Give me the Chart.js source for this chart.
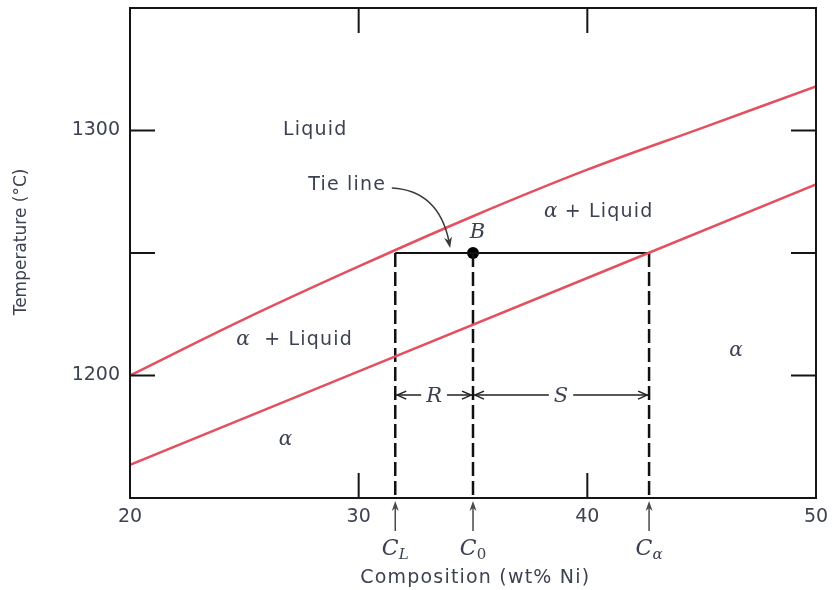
<!DOCTYPE html>
<html>
<head>
<meta charset="utf-8">
<script src="https://cdn.jsdelivr.net/npm/chart.js@4.4.1/dist/chart.umd.min.js"></script>
<style>
  body { margin: 0; background: #fff; }
  canvas { display: block; }
</style>
</head>
<body>
<canvas id="phaseChart" width="832" height="590"></canvas>
<script>
// composition axis (wt% Ni) and temperature axis (°C)
const compTicks = [20, 30, 40, 50];
const tempTicks = [1200, 1250, 1300];
const tempLabels = [1200, 1300];

// liquidus and solidus
const liquidusX = [20, 25, 30, 35, 40, 45, 50];
const liquidusT = [1200, 1223, 1244.5, 1265, 1284, 1301, 1318];
const solidusX = [20, 30, 40, 50];
const solidusT = [1163.5, 1201.7, 1239.8, 1278];

// tie line at point B
const tieT = 1250;
const cL = 31.6;
const c0 = 35;
const cAlpha = 42.7;
const dimT = 1192;

const sans = '"DejaVu Sans", sans-serif';
const serif = '"DejaVu Serif", "Liberation Serif", serif';
const textColor = '#3d4252';
const red = '#e3505f';

function pts(xs, ys) {
    return xs.map((x, i) => ({x: x, y: ys[i]}));
}

function arrowHead(ctx, x, y, ang, len, wid) {
    ctx.beginPath();
    ctx.moveTo(x, y);
    ctx.lineTo(x - len * Math.cos(ang) + wid * Math.sin(ang), y - len * Math.sin(ang) - wid * Math.cos(ang));
    ctx.lineTo(x - len * Math.cos(ang) * 0.7, y - len * Math.sin(ang) * 0.7);
    ctx.lineTo(x - len * Math.cos(ang) - wid * Math.sin(ang), y - len * Math.sin(ang) + wid * Math.cos(ang));
    ctx.closePath();
    ctx.fill();
}

function openArrow(ctx, x, y, dir) {
    // small chevron pointing in dir (+1 right, -1 left)
    ctx.beginPath();
    ctx.moveTo(x - dir * 9, y - 4);
    ctx.lineTo(x, y);
    ctx.lineTo(x - dir * 9, y + 4);
    ctx.stroke();
}

const decorations = {
    id: 'decorations',
    afterDraw(chart) {
        const ctx = chart.ctx;
        const a = chart.chartArea;
        const xs = chart.scales.x;
        const ys = chart.scales.y;
        const px = v => xs.getPixelForValue(v);
        const py = v => ys.getPixelForValue(v);
        ctx.save();

        // frame with inward ticks
        ctx.strokeStyle = '#151515';
        ctx.lineWidth = 2;
        ctx.strokeRect(a.left, a.top, a.right - a.left, a.bottom - a.top);
        const tl = 25;
        ctx.beginPath();
        compTicks.slice(1, -1).forEach(v => {
            ctx.moveTo(px(v), a.bottom); ctx.lineTo(px(v), a.bottom - tl);
            ctx.moveTo(px(v), a.top); ctx.lineTo(px(v), a.top + tl);
        });
        tempTicks.forEach(v => {
            ctx.moveTo(a.left, py(v)); ctx.lineTo(a.left + tl, py(v));
            ctx.moveTo(a.right, py(v)); ctx.lineTo(a.right - tl, py(v));
        });
        ctx.stroke();

        // R and S dimension lines
        ctx.strokeStyle = '#222';
        ctx.fillStyle = textColor;
        ctx.lineWidth = 1.5;
        const yd = py(dimT);
        [[cL, c0, 'R'], [c0, cAlpha, 'S']].forEach(d => {
            const x1 = px(d[0]), x2 = px(d[1]);
            const xm = (x1 + x2) / 2;
            ctx.font = 'italic 21px ' + serif;
            const w = ctx.measureText(d[2]).width / 2 + 5;
            ctx.beginPath();
            ctx.moveTo(x1 + 1, yd); ctx.lineTo(xm - w, yd);
            ctx.moveTo(xm + w, yd); ctx.lineTo(x2 - 1, yd);
            ctx.stroke();
            openArrow(ctx, x1 + 2, yd, -1);
            openArrow(ctx, x2 - 2, yd, 1);
            ctx.textAlign = 'center';
            ctx.textBaseline = 'middle';
            ctx.fillText(d[2], xm, yd + 1);
        });

        // arrows under the axis and C labels
        ctx.lineWidth = 1.5;
        [[cL, 'L', true], [c0, '0', false], [cAlpha, 'α', true]].forEach(c => {
            const x = px(c[0]);
            ctx.strokeStyle = '#4a4a4a';
            ctx.fillStyle = '#4a4a4a';
            ctx.beginPath();
            ctx.moveTo(x, a.bottom + 33); ctx.lineTo(x, a.bottom + 8);
            ctx.stroke();
            arrowHead(ctx, x, a.bottom + 3, -Math.PI / 2, 10, 3.5);
            ctx.fillStyle = textColor;
            ctx.textBaseline = 'alphabetic';
            ctx.textAlign = 'left';
            ctx.font = 'italic 22px ' + serif;
            const wc = ctx.measureText('C').width;
            ctx.font = (c[2] ? 'italic ' : '') + '15px ' + serif;
            const ws = ctx.measureText(c[1]).width;
            const x0 = x - (wc + ws) / 2;
            ctx.font = 'italic 22px ' + serif;
            ctx.fillText('C', x0, a.bottom + 57);
            ctx.font = (c[2] ? 'italic ' : '') + '15px ' + serif;
            ctx.fillText(c[1], x0 + wc, a.bottom + 61);
        });

        // region labels
        ctx.fillStyle = textColor;
        ctx.textBaseline = 'middle';
        function label(txt, cx, cy, greek) {
            ctx.letterSpacing = '1.2px';
            ctx.font = '19px ' + sans;
            const wr = ctx.measureText(txt).width;
            ctx.letterSpacing = '0px';
            ctx.font = 'italic 20px ' + serif;
            const wg = greek ? ctx.measureText('α').width : 0;
            let x = cx - (wg + wr) / 2;
            ctx.textAlign = 'left';
            if (greek) {
                ctx.fillText('α', x, cy);
                x += wg;
            }
            ctx.letterSpacing = '1.2px';
            ctx.font = '19px ' + sans;
            ctx.fillText(txt, x, cy);
            ctx.letterSpacing = '0px';
        }
        label('Liquid', px(28.1), py(1300), false);
        label('Tie line', px(29.5), py(1277.6), false);
        label(' + Liquid', px(40.5), py(1266.7), true);
        label('  + Liquid', px(27.2), py(1214.6), true);
        label('', px(26.8), py(1173.6), true);
        label('', px(46.5), py(1210.2), true);
        ctx.font = 'italic 21px ' + serif;
        ctx.textAlign = 'center';
        ctx.fillText('B', px(35.2), py(1258.5));

        // curved arrow for the tie line
        ctx.strokeStyle = '#3a3a3a';
        ctx.fillStyle = '#3a3a3a';
        ctx.lineWidth = 1.5;
        const sx = px(31.45), sy = py(1276.5);
        const qx = px(33.5), qy = py(1275.5);
        const ex = px(34.0), ey = py(1252);
        ctx.beginPath();
        ctx.moveTo(sx, sy);
        ctx.quadraticCurveTo(qx, qy, ex - 1, ey - 6);
        ctx.stroke();
        arrowHead(ctx, ex, ey, Math.atan2(ey - qy, ex - qx), 11, 4);

        // axis titles
        ctx.fillStyle = textColor;
        ctx.textAlign = 'center';
        ctx.textBaseline = 'middle';
        ctx.letterSpacing = '1.2px';
        ctx.font = '19px ' + sans;
        ctx.fillText('Composition (wt% Ni)', px(35.1), a.bottom + 80);
        ctx.letterSpacing = '0px';
        ctx.font = '17px ' + sans;
        ctx.translate(22, py(1254.5));
        ctx.rotate(-Math.PI / 2);
        ctx.fillText('Temperature (°C)', 0, 0);
        ctx.restore();
    }
};

new Chart('phaseChart', {
    type: 'line',
    data: {
        datasets: [
            {data: pts(liquidusX, liquidusT), borderColor: red, borderWidth: 2.5, pointRadius: 0, cubicInterpolationMode: 'monotone'},
            {data: pts(solidusX, solidusT), borderColor: red, borderWidth: 2.5, pointRadius: 0},
            {data: [{x: cL, y: tieT}, {x: cL, y: 1150}], borderColor: '#111', borderWidth: 2.5, borderDash: [14, 5], pointRadius: 0},
            {data: [{x: c0, y: tieT}, {x: c0, y: 1150}], borderColor: '#111', borderWidth: 2.5, borderDash: [14, 5], pointRadius: 0},
            {data: [{x: cAlpha, y: tieT}, {x: cAlpha, y: 1150}], borderColor: '#111', borderWidth: 2.5, borderDash: [14, 5], pointRadius: 0},
            {data: [{x: cL, y: tieT}, {x: cAlpha, y: tieT}], borderColor: '#111', borderWidth: 2, pointRadius: 0},
            {data: [{x: c0, y: tieT}], showLine: false, pointRadius: 6, pointBackgroundColor: '#000', pointBorderWidth: 0}
        ]
    },
    options: {
        responsive: false,
        animation: false,
        layout: {padding: {top: 8, right: 16, left: 0, bottom: 0}},
        plugins: {legend: {display: false}, tooltip: {enabled: false}},
        scales: {
            x: {
                type: 'linear', min: 20, max: 50,
                afterFit: s => { s.height = 92; s.paddingLeft = 0; s.paddingRight = 0; },
                afterBuildTicks: s => { s.ticks = compTicks.map(v => ({value: v})); },
                grid: {display: false, drawTicks: false},
                border: {display: false},
                ticks: {padding: 8, color: textColor, font: {family: sans, size: 19}}
            },
            y: {
                type: 'linear', min: 1150, max: 1350,
                afterFit: s => { s.width = 130; s.paddingTop = 0; s.paddingBottom = 0; },
                afterBuildTicks: s => { s.ticks = tempTicks.map(v => ({value: v})); },
                grid: {display: false, drawTicks: false},
                border: {display: false},
                ticks: {
                    padding: 10, color: textColor, font: {family: sans, size: 19},
                    callback: v => tempLabels.includes(v) ? String(v) : ''
                }
            }
        }
    },
    plugins: [decorations]
});
</script>
</body>
</html>
